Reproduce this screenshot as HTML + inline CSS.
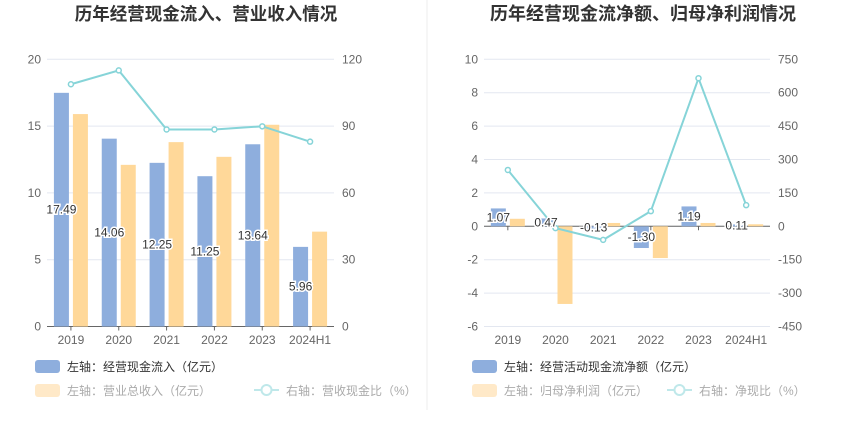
<!DOCTYPE html>
<html><head><meta charset="utf-8">
<style>
body{margin:0;background:#fff;font-family:"Liberation Sans","Noto Sans CJK SC",sans-serif;}
svg{display:block}
text{font-family:"Liberation Sans","Noto Sans CJK SC",sans-serif;}
</style></head>
<body>
<svg id="c" width="850" height="437" viewBox="0 0 850 437"></svg>
<script>
const categories=["2019","2020","2021","2022","2023","2024H1"];
const inflowValues=[17.49,14.06,12.25,11.25,13.64,5.96];
const revenueValues=[15.9,12.1,13.8,12.7,15.1,7.1];
const ratioValues=[108.8,115,88.5,88.5,89.9,83];
const leftTicks1=[0,5,10,15,20];
const rightTicks1=[0,30,60,90,120];
const netCashValues=[1.07,0.47,-0.13,-1.30,1.19,0.11];
const profitValues=[0.45,-4.65,0.2,-1.9,0.2,0.12];
const netRatioValues=[253,-8,-61,68,665,95];
const leftTicks2=[-6,-4,-2,0,2,4,6,8,10];
const rightTicks2=[-450,-300,-150,0,150,300,450,600,750];

const NS="http://www.w3.org/2000/svg";
const svg=document.getElementById('c');
function mk(tag,attrs,parent){const e=document.createElementNS(NS,tag);for(const k in attrs)e.setAttribute(k,attrs[k]);(parent||svg).appendChild(e);return e;}
function txt(s,attrs,parent){const e=mk('text',attrs,parent);e.textContent=s;return e;}

const div=mk('line',{x1:427,y1:0,x2:427,y2:410,stroke:'#eee'});



function chart(o){
  const g=mk('g',{});
  
  
  const top=59.3,bot=326.5;
  const lmin=o.lt[0],lmax=o.lt[o.lt.length-1],rmin=o.rt[0],rmax=o.rt[o.rt.length-1];
  const yL=v=>bot-(v-lmin)/(lmax-lmin)*(bot-top);
  const yR=v=>bot-(v-rmin)/(rmax-rmin)*(bot-top);
  const step=(o.x1-o.x0)/categories.length;
  const cx=i=>o.x0+step*(i+0.5);
  const t=txt(o.title,{x:o.tx,y:20,'text-anchor':'middle','font-size':o.tfs,'font-weight':'bold',fill:'#333'},g);
  
  
  o.lt.forEach((v,i)=>{
    const y=yL(v);
    const gl=mk('line',{x1:o.x0,x2:o.x1,y1:y,y2:y,stroke:'#e3e7f0'},g);
    
    
    const lt=txt(String(v),{x:o.x0-6,y:y+4,'text-anchor':'end','font-size':12,fill:'#666'},g);
    
    
    const rt=txt(String(o.rt[i]),{x:o.x1+8,y:y+4,'text-anchor':'start','font-size':12,fill:'#666'},g);
    
    
  });
  const y0=yL(0);
  const ax=mk('line',{x1:o.x0,x2:o.x1,y1:y0,y2:y0,stroke:'#666'},g);
  
  
  categories.forEach((c,i)=>{
    const tk=mk('line',{x1:cx(i),x2:cx(i),y1:y0,y2:y0+4,stroke:'#666'},g);
    
    
    const l=txt(c,{x:cx(i),y:344,'text-anchor':'middle','font-size':12,fill:'#666'},g);
    
    
  });
  const bw=15;
  o.b1.forEach((v,i)=>{
    const y=yL(v);
    const r=mk('rect',{x:cx(i)-bw-2,y:Math.min(y,y0),width:bw,height:Math.abs(y-y0),fill:'#8eaedd'},g);
    
    
  });
  o.b2.forEach((v,i)=>{
    const y=yL(v);
    const r=mk('rect',{x:cx(i)+2,y:Math.min(y,y0),width:bw,height:Math.abs(y-y0),fill:'#ffd899'},g);
    
    
  });
  const pts=o.line.map((v,i)=>cx(i)+','+yR(v)).join(' ');
  const pl=mk('polyline',{points:pts,fill:'none',stroke:'#86d4d8','stroke-width':2},g);
  
  
  o.line.forEach((v,i)=>{
    const p=mk('circle',{cx:cx(i),cy:yR(v),r:2.5,fill:'#fff',stroke:'#86d4d8','stroke-width':1.5},g);
    
    
  });
  o.b1.forEach((v,i)=>{
    const y=(yL(v)+y0)/2;
    const l=txt(v.toFixed(2),{x:cx(i)-bw/2-2,y:y+4,'text-anchor':'middle','font-size':12,fill:'#333',stroke:'#fff','stroke-width':3,'paint-order':'stroke'},g);
    
    
  });
  const lx=o.x0-12;
  const s1=mk('rect',{x:lx,y:360,width:25,height:13,rx:3,fill:'#8eaedd'},g);
  
  
  const t1=txt(o.leg1,{x:lx+32,y:371,'font-size':12,fill:'#333'},g);
  
  
  const s2=mk('rect',{x:lx,y:384,width:25,height:13,rx:3,fill:'#ffe9c8'},g);
  
  
  const t2=txt(o.leg2,{x:lx+32,y:395,'font-size':12,fill:'#aaa'},g);
  
  
  const sx=lx+o.leg3x;
  const s3=mk('line',{x1:sx,x2:sx+25,y1:390,y2:390,stroke:'#bfe8ea','stroke-width':2},g);
  
  
  const s3c=mk('circle',{cx:sx+12.5,cy:390,r:5,fill:'#fff',stroke:'#bfe8ea','stroke-width':2},g);
  
  
  const t3=txt(o.leg3,{x:sx+32,y:395,'font-size':12,fill:'#aaa'},g);
  
  
}
chart({name:'cash-inflow-revenue-chart',title:'历年经营现金流入、营业收入情况',tx:206,tfs:17.5,x0:47,x1:334,lt:leftTicks1,rt:rightTicks1,b1:inflowValues,b2:revenueValues,line:ratioValues,key1:'inflow',key2:'revenue',leg1:'左轴：经营现金流入（亿元）',leg2:'左轴：营业总收入（亿元）',leg3:'右轴：营收现金比（%）',leg3x:219});
chart({name:'net-cash-profit-chart',title:'历年经营现金流净额、归母净利润情况',tx:643,tfs:18,x0:484,x1:770,lt:leftTicks2,rt:rightTicks2,b1:netCashValues,b2:profitValues,line:netRatioValues,key1:'net-cash',key2:'net-profit',leg1:'左轴：经营活动现金流净额（亿元）',leg2:'左轴：归母净利润（亿元）',leg3:'右轴：净现比（%）',leg3x:195});
</script>
</body></html>
